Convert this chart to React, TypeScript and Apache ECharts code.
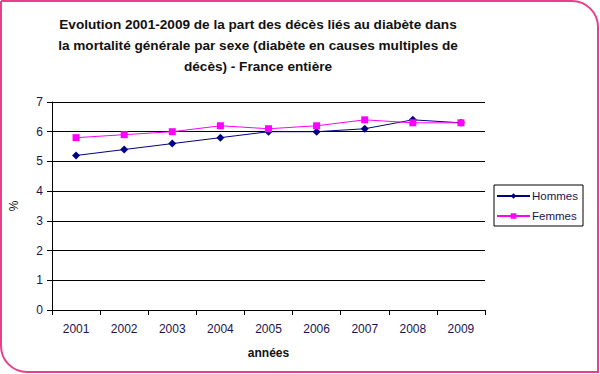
import React, { useEffect, useRef } from "react";
import * as echarts from "echarts";

const years = ["2001", "2002", "2003", "2004", "2005", "2006", "2007", "2008", "2009"];
const hommes = [5.2, 5.4, 5.6, 5.8, 6.0, 6.0, 6.1, 6.4, 6.3];
const femmes = [5.8, 5.9, 6.0, 6.2, 6.1, 6.2, 6.4, 6.3, 6.3];
const titleLines = [
  "Evolution 2001-2009 de la part des décès liés au diabète dans",
  "la mortalité générale par sexe (diabète en causes multiples de",
  "décès) - France entière",
];

export default function App() {
  const ref = useRef<HTMLDivElement>(null);
  useEffect(() => {
    document.body.style.margin = "0";
    const chart = echarts.init(ref.current!, null, { renderer: "svg" });
    const font = "'Liberation Sans', Arial, sans-serif";
    const txt = "#1c1450";
    chart.setOption({
      animation: false,
      backgroundColor: "#ffffff",
      textStyle: { fontFamily: font },
      title: {
        text: titleLines.join("\n"),
        left: 253,
        top: 9,
        textAlign: "center",
        textStyle: { fontSize: 13.6, fontWeight: "bold", color: "#111", lineHeight: 21, fontFamily: font },
      },
      graphic: [
        {
          type: "rect",
          shape: { x: 1, y: 1, width: 597, height: 371, r: [0, 26, 0, 26] },
          style: { fill: "none", stroke: "#e8408c", lineWidth: 2 },
          silent: true,
          z: 100,
        },
      ],
      legend: {
        orient: "vertical",
        left: 494,
        top: 185,
        itemWidth: 33,
        itemHeight: 7,
        itemGap: 8,
        padding: [5, 5, 4, 2],
        borderColor: "#000",
        borderWidth: 1,
        borderRadius: 0,
        textStyle: { fontSize: 11.5, color: txt, fontFamily: font, padding: [0, 0, 0, -3] },
        data: ["Hommes", "Femmes"],
      },
      grid: { left: 47, right: 115, top: 102, bottom: 64, containLabel: false },
      xAxis: {
        type: "category",
        data: years,
        boundaryGap: true,
        name: "années",
        nameLocation: "middle",
        nameGap: 37,
        nameTextStyle: { fontSize: 12, fontWeight: "bold", color: "#111", fontFamily: font },
        axisLine: { lineStyle: { color: "#000", width: 1 } },
        axisTick: { show: true, length: 5, lineStyle: { color: "#000" } },
        axisLabel: { fontSize: 12, color: txt, margin: 13, fontFamily: font },
      },
      yAxis: {
        type: "value",
        min: 0,
        max: 7,
        interval: 1,
        name: "%",
        nameLocation: "middle",
        nameGap: 32,
        nameRotate: 90,
        nameTextStyle: { fontSize: 12, color: "#111", fontFamily: font },
        axisLine: { show: true, lineStyle: { color: "#000", width: 1 } },
        axisTick: { show: true, length: 5, lineStyle: { color: "#000" } },
        axisLabel: { fontSize: 12, color: txt, margin: 9, fontFamily: font },
        splitLine: { show: true, lineStyle: { color: "#000", width: 1 } },
      },
      series: [
        {
          name: "Hommes",
          type: "line",
          data: hommes,
          symbol: "diamond",
          symbolSize: 8,
          itemStyle: { color: "#000080" },
          lineStyle: { color: "#000080", width: 1 },
        },
        {
          name: "Femmes",
          type: "line",
          data: femmes,
          symbol: "rect",
          symbolSize: 7,
          itemStyle: { color: "#ff00ff" },
          lineStyle: { color: "#ff00ff", width: 1 },
        },
      ],
    });
    return () => chart.dispose();
  }, []);
  return <div ref={ref} style={{ width: 600, height: 374 }} />;
}
